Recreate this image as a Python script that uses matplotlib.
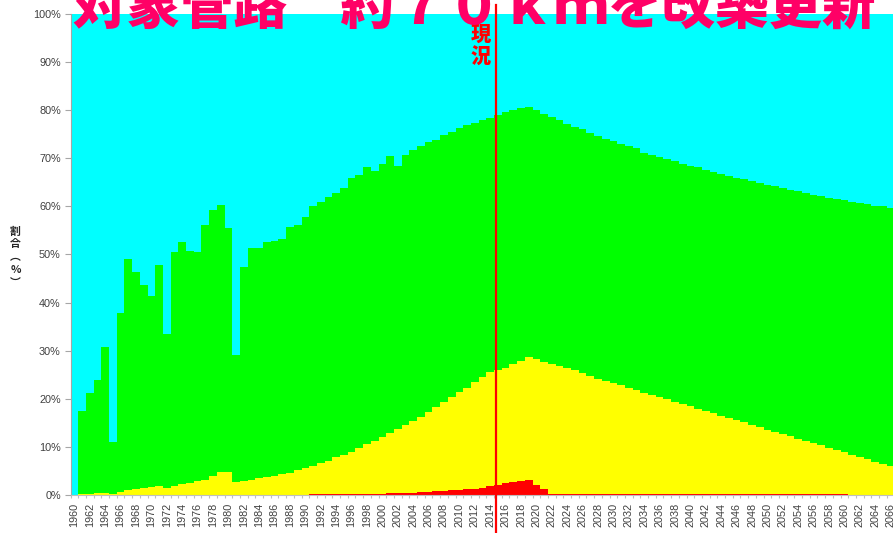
import numpy as np
import matplotlib
matplotlib.use("Agg")
import matplotlib.pyplot as plt
from matplotlib.ticker import FixedLocator

# ---------------- data (percent, cumulative from the bottom) ----------------
years = list(range(1960, 2067))

# red layer (bottom)
red = (
    [0.0] * 31 +                                                   # 1960-1990
    [0.15, 0.15, 0.15, 0.15, 0.15, 0.2, 0.2, 0.2, 0.25,            # 1991-1999
     0.3, 0.35, 0.4, 0.45, 0.5, 0.55, 0.65, 0.75, 0.85, 0.95,      # 2000-2009
     1.05, 1.2, 1.35, 1.55, 1.8, 2.1, 2.4, 2.7, 3.0, 3.1,          # 2010-2019
     2.0, 1.2, 0.3] +                                              # 2020-2022
    [0.3] * 8 +                                                    # 2023-2030
    [0.2] * 30 +                                                   # 2031-2060
    [0.0] * 6                                                      # 2061-2066
)

# top of the yellow layer (red + yellow)
red_yellow = [
    0.0, 0.2, 0.3, 0.5, 0.5, 0.3, 0.7, 1.0, 1.3, 1.5,              # 1960-1969
    1.6, 1.8, 1.5, 1.8, 2.3, 2.5, 2.9, 3.2, 4.0, 4.8,              # 1970-1979
    4.8, 2.6, 2.9, 3.1, 3.5, 3.7, 4.0, 4.3, 4.6, 5.1,              # 1980-1989
    5.7, 6.1, 6.7, 7.1, 7.8, 8.3, 9.0, 9.7, 10.5, 11.2,            # 1990-1999
    12.1, 12.8, 13.7, 14.5, 15.3, 16.3, 17.3, 18.2, 19.3, 20.4,    # 2000-2009
    21.5, 22.3, 23.4, 24.5, 25.6, 25.9, 26.5, 27.2, 27.9, 28.6,    # 2010-2019
    28.3, 27.7, 27.3, 26.9, 26.4, 25.9, 25.3, 24.8, 24.2, 23.7,    # 2020-2029
    23.2, 22.8, 22.3, 21.8, 21.3, 20.8, 20.4, 19.9, 19.4, 18.9,    # 2030-2039
    18.4, 17.9, 17.5, 17.0, 16.5, 16.0, 15.6, 15.1, 14.6, 14.1,    # 2040-2049
    13.6, 13.2, 12.7, 12.2, 11.7, 11.2, 10.8, 10.3, 9.8, 9.3,      # 2050-2059
    8.9, 8.4, 7.9, 7.4, 6.9, 6.5, 6.0,                             # 2060-2066
]

# top of the green layer (red + yellow + green); cyan fills the rest to 100 %
red_yellow_green = [
    0.0, 17.5, 21.2, 24.0, 30.7, 11.1, 37.9, 49.1, 46.4, 43.7,     # 1960-1969
    41.4, 47.8, 33.5, 50.5, 52.5, 50.8, 50.6, 56.1, 59.3, 60.2,    # 1970-1979
    55.6, 29.2, 47.3, 51.3, 51.4, 52.5, 52.8, 53.2, 55.7, 56.1,    # 1980-1989
    57.7, 60.1, 61.0, 61.9, 62.7, 63.8, 66.0, 66.5, 68.1, 67.3,    # 1990-1999
    68.8, 70.4, 68.4, 70.6, 71.7, 72.6, 73.4, 73.9, 74.8, 75.5,    # 2000-2009
    76.3, 76.9, 77.4, 78.0, 78.4, 79.0, 79.7, 80.1, 80.5, 80.7,    # 2010-2019
    80.0, 79.3, 78.6, 78.0, 77.1, 76.6, 76.0, 75.3, 74.7, 74.1,    # 2020-2029
    73.6, 73.0, 72.6, 72.1, 71.2, 70.7, 70.3, 69.8, 69.4, 68.8,    # 2030-2039
    68.4, 68.1, 67.5, 67.1, 66.7, 66.3, 66.0, 65.6, 65.2, 64.9,    # 2040-2049
    64.5, 64.2, 63.8, 63.4, 63.1, 62.8, 62.4, 62.1, 61.8, 61.6,    # 2050-2059
    61.3, 61.0, 60.7, 60.4, 60.1, 60.0, 59.7,                      # 2060-2066
]

y_ticks = list(range(0, 101, 10))
y_tick_labels = [f"{v}%" for v in y_ticks]
x_tick_years = years[::2]
current_year = 2014.8
title = "対象管路　約７０ｋｍを改築更新"
current_label = "現\n況"
y_label = "割\n合\n︵\n%\n︶"

assert len(red) == len(red_yellow) == len(red_yellow_green) == len(years)

# ---------------- figure ----------------
W, H = 893, 533
fig = plt.figure(figsize=(W / 100, H / 100), dpi=100)
fig.patch.set_facecolor("white")

ax_left, ax_right, ax_top, ax_bottom = 70.5, 894.5, 14, 495
ax = fig.add_axes([ax_left / W, (H - ax_bottom) / H,
                   (ax_right - ax_left) / W, (ax_bottom - ax_top) / H])

x = np.array(years)
r = np.array(red)
ry = np.array(red_yellow)
ryg = np.array(red_yellow_green)

kw = dict(width=1.0, linewidth=0, edgecolor="none", antialiased=False)
ax.bar(x, r, color="#FF0000", **kw)
ax.bar(x, ry - r, bottom=r, color="#FFFF00", **kw)
ax.bar(x, ryg - ry, bottom=ry, color="#00FF00", **kw)
ax.bar(x, 100 - ryg, bottom=ryg, color="#00FFFF", **kw)

ax.set_xlim(years[0] - 0.5, years[-1] + 0.5)
ax.set_ylim(0, 100)

tick_font = dict(family=["Liberation Sans", "DejaVu Sans"], size=7.8)
ax.set_yticks(y_ticks)
ax.set_yticklabels(y_tick_labels, **tick_font, color="#404040")
ax.set_xticks(x_tick_years)
ax.set_xticklabels([str(v) for v in x_tick_years], rotation=90, **tick_font,
                   color="#404040")
ax.xaxis.set_minor_locator(FixedLocator(np.arange(years[0] - 0.5, years[-1] + 1, 1)))
ax.tick_params(axis="x", which="major", length=0, pad=5.5)
ax.tick_params(axis="x", which="minor", length=2.5, color="#BFBFBF", width=0.8)
ax.tick_params(axis="y", which="major", length=4, color="#A6A6A6", width=0.8, pad=3)

for s in ("top", "right"):
    ax.spines[s].set_visible(False)
ax.spines["left"].set_color("#A6A6A6")
ax.spines["bottom"].set_color("#BFBFBF")
ax.spines["left"].set_linewidth(0.8)
ax.spines["bottom"].set_linewidth(0.8)

# current-year line, runs above the plot and through the tick labels
h = ax_bottom - ax_top
ax.axvline(current_year, ymin=(ax_bottom - H) / h, ymax=(ax_bottom - 5) / h,
           color="#FF0000", lw=1.6, clip_on=False, zorder=5)

cjk = ["Noto Sans CJK JP", "DejaVu Sans"]

# vertical "現況" label
fig.text(481 / W, 1 - 46.5 / H, current_label, fontsize=14.5, color="#FF0000",
         fontweight="heavy", family=cjk, ha="center", va="center",
         linespacing=1.2, zorder=10)

# vertical y-axis label
fig.text(15.5 / W, 1 - 257 / H, y_label, fontsize=7.8, color="#262626",
         fontweight="bold", family=cjk, ha="center", va="center",
         linespacing=1.35)

# big magenta title (partly cut off at the top, as in the reference)
fig.text(73 / W, 1 - 24 / H, title, fontsize=38.5, color="#FF0066",
         fontweight="heavy", family=cjk, ha="left", va="baseline", zorder=10)

fig.savefig("out.png", dpi=100)
